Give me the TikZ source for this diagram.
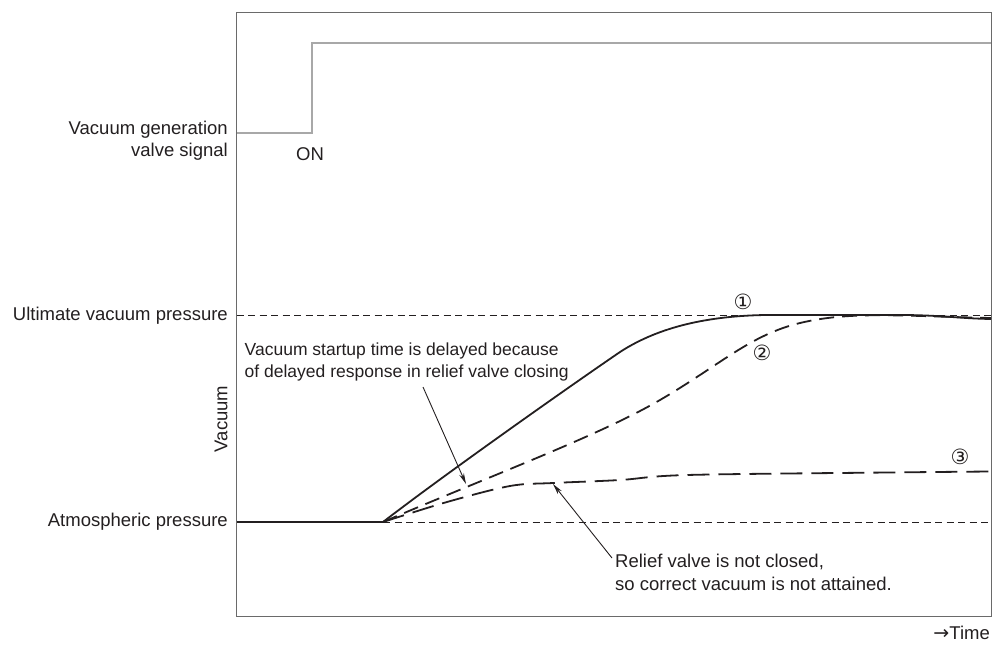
\documentclass[tikz,border=0pt]{standalone}
\usepackage{fontspec}
\setmainfont{Liberation Sans}
\newfontfamily\symfont{DejaVu Sans}
\usetikzlibrary{arrows.meta}
\definecolor{txt}{HTML}{231F20}
\definecolor{frame}{HTML}{6A6A6A}
\definecolor{sig}{HTML}{A8A8A8}
\tikzset{
  lbl/.style={font=\fontsize{18.5}{22.5}\selectfont, text=txt, inner sep=0pt},
  note/.style={font=\fontsize{17.5}{21.5}\selectfont, text=txt, inner sep=0pt, align=left},
  noteb/.style={font=\fontsize{18.5}{23}\selectfont, text=txt, inner sep=0pt, align=left},
  num/.style={font=\symfont\fontsize{21}{21}\selectfont, text=txt, inner sep=0pt},
  guide/.style={draw=txt, line width=0.9pt, dash pattern=on 7pt off 4.5pt},
  main/.style={draw=txt, line width=1.8pt},
  dashA/.style={draw=txt, line width=1.8pt, dash pattern=on 15pt off 8pt},
  dashB/.style={draw=txt, line width=1.8pt, dash pattern=on 22pt off 9pt},
  pointer/.style={draw=txt, line width=0.9pt, -{Stealth[length=11pt,width=5pt]}}
}
\begin{document}
\begin{tikzpicture}[x=1pt,y=-1pt]
\useasboundingbox (0,0) rectangle (994,645);
% frame
\draw[frame, line width=1.4pt] (236.5,12.5) rectangle (991.5,616.5);
% signal
\draw[sig, line width=1.4pt] (237,133) -- (312,133) -- (312,43) -- (991,43);
% guides
\draw[guide] (236.5,315) -- (991.5,315);
\draw[guide] (383,522) -- (991.5,522);
% labels
\node[lbl, anchor=east, align=right] (sigl) at (228,140.5) {Vacuum generation\\valve signal};
\node[lbl] (on) at (310,154) {ON};
\node[lbl, anchor=east] (ult) at (228,316) {Ultimate vacuum pressure};
\node[lbl, anchor=east] (atm) at (228,522) {Atmospheric pressure};
\node[lbl, rotate=90] (vac) at (221,419) {Vacuum};
\node[lbl, anchor=east] (time) at (990,633) {{\symfont\fontsize{19}{19}\selectfont→}Time};
% curves
\draw[main] (237,522) -- (383,522) .. controls (440,478) and (560,393) .. (620,352)
  .. controls (660,326) and (710,316) .. (765,315) -- (900,315)
  .. controls (940,315) and (960,318.5) .. (991,319);
\draw[dashA] (383,522) .. controls (500,472) and (600,435) .. (660,400)
  .. controls (720,365) and (750,335) .. (800,323)
  .. controls (850,311) and (900,316) .. (991,318);
\draw[dashB] plot[smooth, tension=0.55] coordinates {(383,522) (447,502) (510,486) (553,483) (620,480) (687,475) (887,472.5) (991,471.5)};
% numbers
\node[num] (n1) at (743,302) {①};
\node[num] (n2) at (762,353) {②};
\node[num] (n3) at (960,457) {③};
% notes
\node[note, anchor=north west] (noteA) at (244.5,343) {Vacuum startup time is delayed because\\of delayed response in relief valve closing};
\node[noteb, anchor=north west] (noteB) at (615,554) {Relief valve is not closed,\\so correct vacuum is not attained.};
\coordinate (tipA) at (466,484);
\coordinate (tipB) at (553,484);
\coordinate (startA) at (423,387);
\coordinate (startB) at (612,558);
\draw[pointer] (startA) -- (tipA);
\draw[pointer] (startB) -- (tipB);
\end{tikzpicture}
\end{document}
